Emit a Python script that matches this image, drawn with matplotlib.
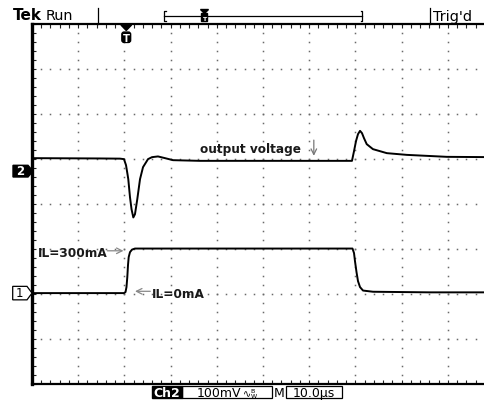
import matplotlib
matplotlib.use("Agg")
import matplotlib.pyplot as plt
import numpy as np
import matplotlib.transforms as mtransforms
from matplotlib.patches import Polygon, Rectangle, FancyBboxPatch

# ---------------- data ----------------
# Ch2: output voltage (mV, relative to the Ch2 ground marker), time in µs
ch2_time_us = [0, 14.72, 19.05, 19.91, 20.35, 20.67, 20.84, 21.21, 21.54, 21.93,
               22.29, 22.79, 23.38, 24.03, 25.11, 25.97, 27.27, 28.79, 30.52, 36.36,
               58.0, 69.26, 69.70, 70.13, 70.56, 71.0, 71.43, 71.86, 72.45, 73.8,
               76.8, 81.1, 89.8, 100]
ch2_mv = [28.9, 28.2, 27.8, 26.7, 13.3, -6.7, -17.8, -57.8, -84.4, -102.9,
          -95.6, -62.2, -17.8, 8.9, 26.7, 31.1, 32.7, 28.9, 24.4, 22.9,
          22.9, 22.9, 44.4, 66.7, 82.2, 89.6, 84.4, 73.3, 60.0, 48.9,
          40.0, 36.2, 31.8, 31.1]

# Ch1: load current (mA), time in µs
ch1_time_us = [0, 19.91, 20.24, 20.45, 20.63, 20.78, 20.93, 21.21, 21.65, 22.29,
               69.37, 69.70, 69.91, 70.24, 70.56, 71.0, 71.65, 73.81, 86.15, 100]
ch1_ma = [0, 0, 7, 40, 107, 187, 240, 273, 290, 297,
          297, 267, 213, 140, 80, 40, 17, 9, 5, 5]

trigger_us = 20.4
ch2_scale_mv = 100.0     # mV / div
ch1_scale_ma = 300.0     # mA / div
ch2_pos_div = 0.73       # ground marker position
ch1_pos_div = -1.98

header_left = ["Tek", "Run"]
header_right = "Trig'd"
footer_ch = "Ch2"
footer_volts = "100mV"
footer_time = "10.0\u00b5s"

# ---------------- figure ----------------
W, H = 485, 406
fig = plt.figure(figsize=(W / 100, H / 100), dpi=100)
fig.patch.set_facecolor("white")

ax = fig.add_axes([32 / W, (H - 385) / H, (494 - 32) / W, 360 / H])
ax.set_xlim(0, 100)
ax.set_ylim(-4, 4)
ax.set_facecolor("white")

# graticule dots
dot_col = "#6a6a6a"
for k in range(1, 10):
    yy = np.arange(-4, 4.001, 0.2)
    ax.plot(np.full_like(yy, k * 10.0), yy, ls="none", marker="s", ms=1.1,
            mec="none", mfc=dot_col, zorder=1)
for k in range(-3, 4):
    xx = np.arange(0, 100.001, 2.0)
    ax.plot(xx, np.full_like(xx, float(k)), ls="none", marker="s", ms=1.1,
            mec="none", mfc=dot_col, zorder=1)

# spines & ticks
ax.spines["right"].set_visible(False)
ax.spines["left"].set_linewidth(2.4)
ax.spines["top"].set_linewidth(1.6)
ax.spines["bottom"].set_linewidth(1.6)
ax.set_xticks(np.arange(0, 101, 10))
ax.set_xticks(np.arange(0, 101, 2), minor=True)
ax.set_yticks(np.arange(-4, 4.1, 1))
ax.set_yticks(np.arange(-4, 4.01, 0.2), minor=True)
ax.tick_params(which="both", direction="in", top=True, bottom=True, left=True,
               right=False, labelbottom=False, labelleft=False, length=2.6,
               width=0.8, color="#222222")

# traces
ax.plot(ch2_time_us, ch2_pos_div + np.array(ch2_mv) / ch2_scale_mv,
        color="black", lw=1.4, zorder=5, solid_joinstyle="round")
ax.plot(ch1_time_us, ch1_pos_div + np.array(ch1_ma) / ch1_scale_ma,
        color="black", lw=1.4, zorder=5, solid_joinstyle="round")

# annotations
ann_font = dict(family="DejaVu Sans", weight="bold", size=8.7, color="#1a1a1a")
ax.text(36.4, 1.15, "output voltage", ha="left", va="baseline", **ann_font)
ax.annotate("", xy=(61.0, 1.07), xytext=(61.0, 1.42),
            arrowprops=dict(arrowstyle="->", color="#777777", lw=0.9,
                            shrinkA=0, shrinkB=0))
ax.text(1.2, -1.15, "IL=300mA", ha="left", va="baseline", **ann_font)
ax.annotate("", xy=(19.8, -1.04), xytext=(16.3, -1.04),
            arrowprops=dict(arrowstyle="->", color="#888888", lw=0.9,
                            shrinkA=0, shrinkB=0))
ax.text(26.0, -2.07, "IL=0mA", ha="left", va="baseline", **ann_font)
ax.annotate("", xy=(22.3, -1.94), xytext=(25.6, -1.94),
            arrowprops=dict(arrowstyle="->", color="#888888", lw=0.9,
                            shrinkA=0, shrinkB=0))

# overlay in pixel coordinates for screen decorations
ov = fig.add_axes([0, 0, 1, 1], zorder=10)
ov.set_xlim(0, W)
ov.set_ylim(H, 0)
ov.axis("off")
ov.patch.set_alpha(0)

# header
ov.text(13, 20.5, header_left[0], fontsize=11, weight="bold", family="DejaVu Sans",
        ha="left", va="baseline")
ov.text(46, 20.5, header_left[1], fontsize=10.4, family="DejaVu Sans",
        ha="left", va="baseline")
ov.plot([98, 98], [9, 25], color="black", lw=0.9)
ov.plot([430, 430], [9, 25], color="black", lw=0.9)
ov.text(433, 20.5, header_right, fontsize=10.4, family="DejaVu Sans",
        ha="left", va="baseline")
# record-window bracket
ov.plot([166, 164.5, 164.5, 166], [11.5, 11.5, 22, 22], color="black", lw=0.9)
ov.plot([361, 362.5, 362.5, 361], [11.5, 11.5, 22, 22], color="black", lw=0.9)
ov.plot([164.5, 362.5], [16.5, 16.5], color="black", lw=0.9)
ov.add_patch(Rectangle((201.5, 14), 6, 8, color="black"))
ov.add_patch(Polygon([[200.5, 10.5], [208.5, 10.5], [204.5, 14.5]], color="black"))
ov.text(204.5, 21, "T", color="white", fontsize=4.5, weight="bold", ha="center",
        va="baseline")

# trigger position marker
tr = mtransforms.blended_transform_factory(ax.transData, ov.transData)
ov.add_patch(Polygon([[trigger_us - 1.15, 26], [trigger_us + 1.15, 26],
                      [trigger_us, 31.5]], closed=True, color="black", transform=tr))
ov.add_patch(FancyBboxPatch((trigger_us - 0.85, 33.5), 1.7, 9.5,
                            boxstyle="round,pad=0.1,rounding_size=0.5",
                            color="black", transform=tr, mutation_aspect=4.6))
ov.text(trigger_us, 41.5, "T", color="white", fontsize=7.2, weight="bold",
        ha="center", va="baseline", transform=tr)

# channel ground markers
cm = mtransforms.blended_transform_factory(ov.transData, ax.transData)
hh = 0.13
ov.add_patch(Polygon([[13, ch2_pos_div + hh], [28, ch2_pos_div + hh],
                      [33, ch2_pos_div], [28, ch2_pos_div - hh],
                      [13, ch2_pos_div - hh]], closed=True, color="black",
                     transform=cm))
ov.text(20.5, ch2_pos_div + 0.005, "2", color="white", fontsize=8.5, weight="bold",
        ha="center", va="center", transform=cm)
ov.add_patch(Polygon([[12.7, ch1_pos_div + 0.15], [27, ch1_pos_div + 0.15],
                      [32, ch1_pos_div], [27, ch1_pos_div - 0.15],
                      [12.7, ch1_pos_div - 0.15]], closed=True, fc="white",
                     ec="black", lw=0.9, transform=cm))
ov.text(19.5, ch1_pos_div + 0.005, "1", color="black", fontsize=8.5,
        ha="center", va="center", transform=cm)

# footer
ov.add_patch(Rectangle((152.5, 386.5), 29.5, 12.5, color="black"))
ov.text(167, 397, footer_ch, color="white", fontsize=9, weight="bold",
        ha="center", va="baseline")
ov.add_patch(Rectangle((182, 386.5), 90.5, 12.5, fc="none", ec="black", lw=0.9))
ov.text(197, 397, footer_volts, fontsize=9, ha="left", va="baseline")
ov.text(242.5, 397, "\u223f", fontsize=7, ha="left", va="baseline")
ov.text(250.5, 393, "B", fontsize=4.5, ha="left", va="baseline")
ov.text(250.5, 398, "W", fontsize=4.5, ha="left", va="baseline")
ov.text(273.5, 397, "M", fontsize=9, ha="left", va="baseline")
ov.add_patch(Rectangle((286, 386.5), 56, 12.5, fc="none", ec="black", lw=0.9))
ov.text(314, 397, footer_time, fontsize=9, ha="center", va="baseline")

fig.savefig("out.png", dpi=100, facecolor="white")
